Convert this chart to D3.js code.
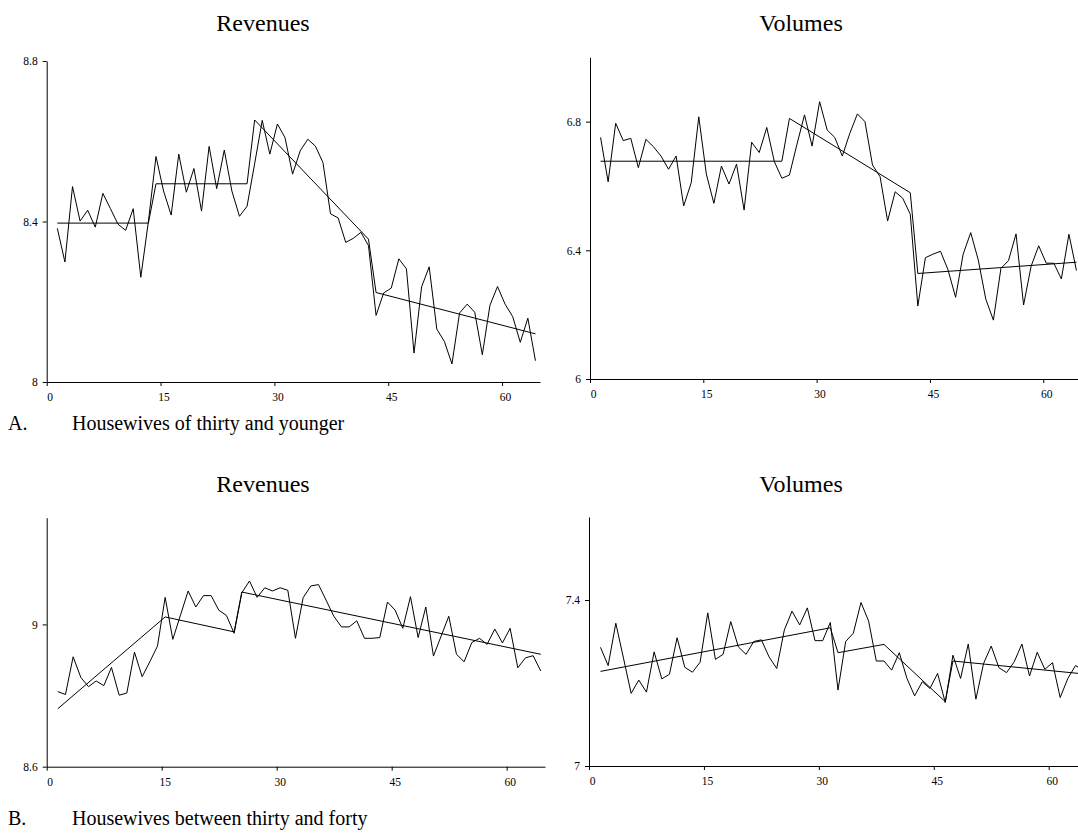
<!DOCTYPE html>
<html>
<head>
<meta charset="utf-8">
<script src="https://cdn.jsdelivr.net/npm/d3@7"></script>
<style>
  html, body { margin: 0; padding: 0; background: #fff; overflow: hidden; }
  svg { display: block; font-family: "Liberation Serif", "Times New Roman", serif; }
</style>
</head>
<body>
<svg id="chart" width="1078" height="833"></svg>
<script>
// Periods 1..64 on the horizontal axis
const periods = d3.range(1, 65);
const xTicks = [0, 15, 30, 45, 60];

// A. Housewives of thirty and younger
const revenuesA = [
  8.383, 8.299, 8.487, 8.401, 8.428, 8.386, 8.470, 8.432, 8.393, 8.378,
  8.432, 8.261, 8.400, 8.562, 8.476, 8.416, 8.568, 8.473, 8.532, 8.426,
  8.587, 8.482, 8.578, 8.476, 8.413, 8.438, 8.544, 8.652, 8.568, 8.643,
  8.609, 8.518, 8.576, 8.605, 8.588, 8.547, 8.419, 8.409, 8.348, 8.358,
  8.373, 8.340, 8.166, 8.222, 8.234, 8.307, 8.282, 8.072, 8.237, 8.287,
  8.132, 8.101, 8.045, 8.172, 8.194, 8.174, 8.068, 8.191, 8.238, 8.194,
  8.163, 8.099, 8.159, 8.053
];
const volumesA = [
  6.751, 6.613, 6.795, 6.741, 6.748, 6.657, 6.745, 6.722, 6.693, 6.652,
  6.693, 6.538, 6.610, 6.815, 6.637, 6.546, 6.662, 6.606, 6.668, 6.525,
  6.736, 6.704, 6.782, 6.676, 6.624, 6.634, 6.730, 6.821, 6.724, 6.862,
  6.774, 6.751, 6.693, 6.764, 6.824, 6.800, 6.665, 6.629, 6.491, 6.582,
  6.562, 6.512, 6.227, 6.377, 6.388, 6.397, 6.339, 6.254, 6.388, 6.455,
  6.370, 6.248, 6.183, 6.344, 6.368, 6.451, 6.230, 6.351, 6.414, 6.360,
  6.360, 6.311, 6.450, 6.337
];
// Piecewise trend lines: [period, value] break points
const trendRevenuesA = [[1, 8.396], [13, 8.396], [14, 8.494], [26, 8.494], [27, 8.653], [42, 8.356], [43, 8.223], [64, 8.120]];
const trendVolumesA  = [[1, 6.677], [25, 6.677], [26, 6.810], [42, 6.579], [43, 6.328], [64, 6.363]];

// B. Housewives between thirty and forty
const revenuesB = [
  8.811, 8.803, 8.909, 8.851, 8.825, 8.841, 8.828, 8.879, 8.801, 8.807,
  8.922, 8.853, 8.895, 8.939, 9.076, 8.958, 9.026, 9.094, 9.049, 9.081,
  9.081, 9.040, 9.025, 8.975, 9.089, 9.122, 9.076, 9.103, 9.094, 9.103,
  9.096, 8.961, 9.075, 9.108, 9.112, 9.068, 9.023, 8.993, 8.993, 9.010,
  8.961, 8.961, 8.963, 9.063, 9.040, 8.989, 9.078, 8.963, 9.049, 8.911,
  8.967, 9.023, 8.916, 8.895, 8.949, 8.961, 8.944, 8.987, 8.948, 8.989,
  8.878, 8.906, 8.912, 8.869
];
const volumesB = [
  7.286, 7.242, 7.344, 7.260, 7.175, 7.207, 7.178, 7.275, 7.210, 7.221,
  7.309, 7.238, 7.226, 7.250, 7.369, 7.257, 7.269, 7.348, 7.287, 7.269,
  7.300, 7.304, 7.263, 7.235, 7.328, 7.373, 7.340, 7.381, 7.302, 7.302,
  7.346, 7.183, 7.300, 7.320, 7.394, 7.349, 7.253, 7.253, 7.231, 7.273,
  7.211, 7.169, 7.203, 7.187, 7.223, 7.153, 7.267, 7.211, 7.294, 7.161,
  7.247, 7.289, 7.237, 7.225, 7.251, 7.294, 7.217, 7.274, 7.233, 7.249,
  7.165, 7.211, 7.242, 7.230
];
const trendRevenuesB = [[1, 8.763], [15, 9.021], [24, 8.979], [25, 9.091], [64, 8.916]];
const trendVolumesB  = [[1, 7.228], [31, 7.333], [32, 7.273], [38, 7.293], [46, 7.155], [47, 7.253], [64, 7.222]];

const yDomainRevA = [8, 8.8],   yTicksRevA = [8, 8.4, 8.8];
const yDomainVolA = [6, 7],     yTicksVolA = [6, 6.4, 6.8];
const yDomainRevB = [8.6, 9.3], yTicksRevB = [8.6, 9];
const yDomainVolB = [7, 7.6],   yTicksVolB = [7, 7.4];

const titles = ["Revenues", "Volumes"];
const captions = [
  ["A.", "Housewives of thirty and younger"],
  ["B.", "Housewives between thirty and forty"]
];

// Layout of the four plot areas
const panels = [
  { title: titles[0], values: revenuesA, trend: trendRevenuesA, yDomain: yDomainRevA, yTicks: yTicksRevA,
    left: 46.7, right: 540, top: 61, bottom: 382, titleX: 263, titleY: 31, slot: 0.4 },
  { title: titles[1], values: volumesA, trend: trendVolumesA, yDomain: yDomainVolA, yTicks: yTicksVolA,
    left: 590, right: 1081, top: 57.3, bottom: 379, titleX: 801, titleY: 31, slot: 0.4 },
  { title: titles[0], values: revenuesB, trend: trendRevenuesB, yDomain: yDomainRevB, yTicks: yTicksRevB,
    left: 46.7, right: 545, top: 517.7, bottom: 766.7, titleX: 263, titleY: 492, slot: 0.45 },
  { title: titles[1], values: volumesB, trend: trendVolumesB, yDomain: yDomainVolB, yTicks: yTicksVolB,
    left: 589, right: 1087, top: 517, bottom: 766, titleX: 801, titleY: 492, slot: 0.5 }
];

const svg = d3.select("#chart");
const fmt = d3.format("~g");

panels.forEach(p => {
  const x = d3.scaleLinear().domain([0, 65]).range([p.left, p.right]);
  const y = d3.scaleLinear().domain(p.yDomain).range([p.bottom, p.top]);
  const g = svg.append("g");

  // axes
  const yAxis = d3.axisLeft(y).tickValues(p.yTicks).tickFormat(fmt).tickSize(4).tickSizeOuter(0).tickPadding(5);
  const xAxis = d3.axisBottom(x).tickValues(xTicks).tickFormat(fmt).tickSize(4).tickSizeOuter(0).tickPadding(7);

  const gy = g.append("g").attr("transform", `translate(${p.left},0)`).call(yAxis);
  const gx = g.append("g").attr("transform", `translate(0,${p.bottom})`).call(xAxis);
  [gx, gy].forEach(a => {
    a.selectAll("path.domain").attr("stroke", "#000").attr("stroke-width", 1);
    a.selectAll(".tick line").attr("stroke", "#000");
    a.selectAll("text").attr("fill", "#000")
      .style("font-family", '"Liberation Serif", "Times New Roman", serif')
      .style("font-size", "11.5px");
  });
  gx.selectAll(".tick text").attr("dx", 3);

  // observed series, each period drawn inside its unit slot
  const line = d3.line()
    .x((d, i) => x(periods[i] + p.slot))
    .y(d => y(d));
  g.append("path")
    .datum(p.values)
    .attr("fill", "none")
    .attr("stroke", "#000")
    .attr("stroke-width", 1)
    .attr("stroke-linejoin", "miter")
    .attr("d", line);

  // fitted piecewise trend
  const trendLine = d3.line()
    .x(d => x(d[0] + p.slot))
    .y(d => y(d[1]));
  g.append("path")
    .datum(p.trend)
    .attr("fill", "none")
    .attr("stroke", "#000")
    .attr("stroke-width", 1)
    .attr("d", trendLine);

  // panel title
  svg.append("text")
    .attr("x", p.titleX)
    .attr("y", p.titleY)
    .attr("text-anchor", "middle")
    .style("font-size", "24px")
    .attr("fill", "#000")
    .text(p.title);
});

// captions under each row
const captionY = [430, 825];
captions.forEach((c, i) => {
  svg.append("text").attr("x", 8).attr("y", captionY[i])
    .style("font-size", "20px").attr("fill", "#000").text(c[0]);
  svg.append("text").attr("x", 72).attr("y", captionY[i])
    .style("font-size", "20px").attr("fill", "#000").text(c[1]);
});
</script>
</body>
</html>
